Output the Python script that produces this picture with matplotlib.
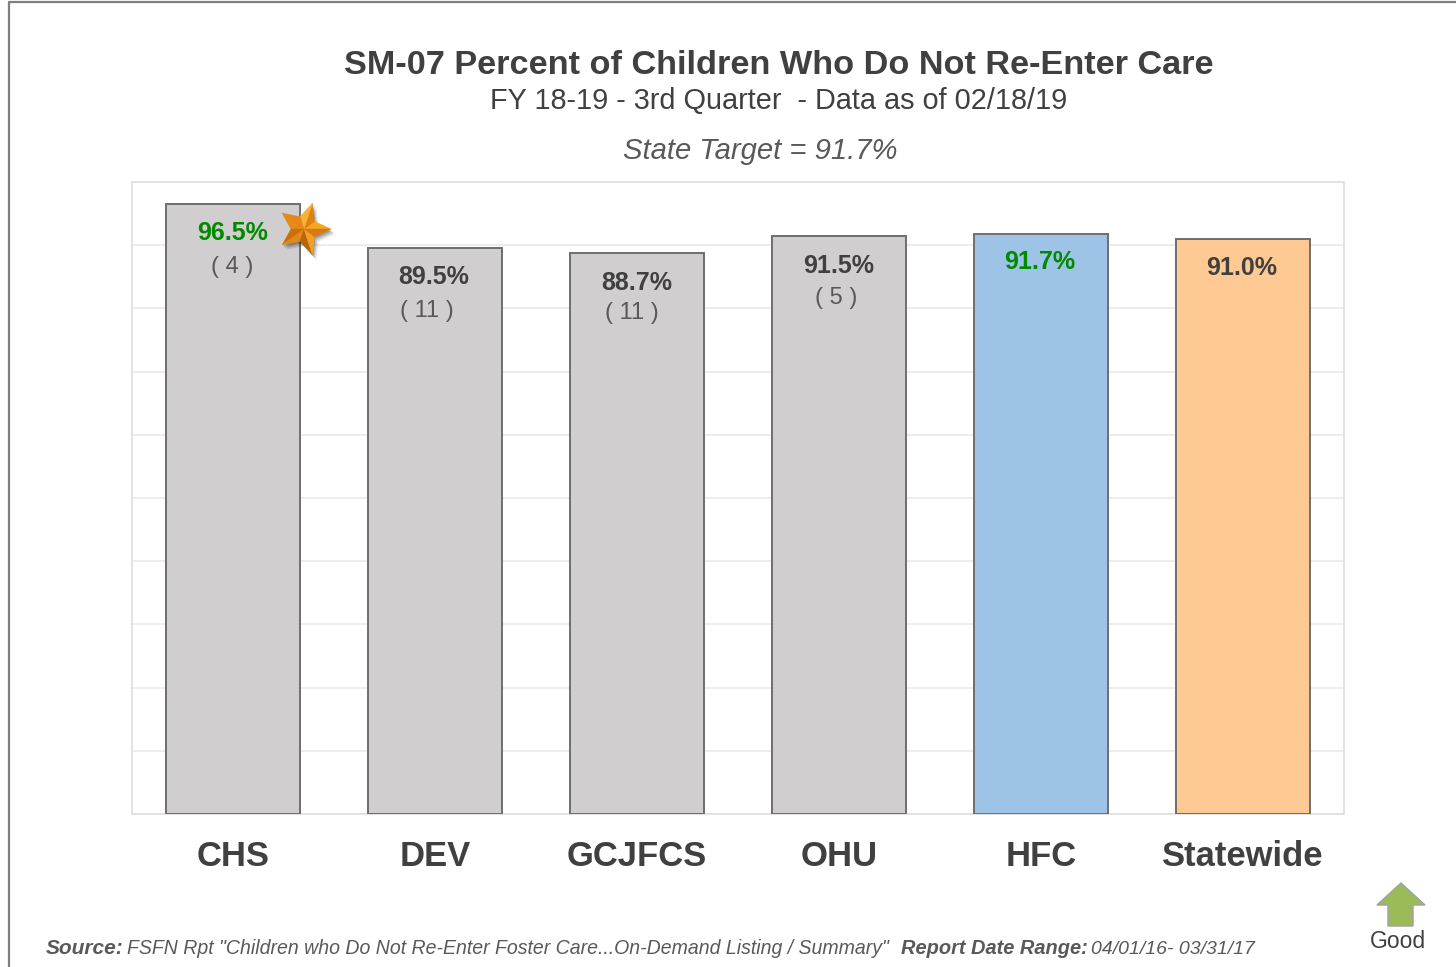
import numpy as np
import matplotlib
matplotlib.use('Agg')
import matplotlib.pyplot as plt
from matplotlib.patches import Polygon

plt.rcParams['font.family'] = ['Liberation Sans', 'DejaVu Sans']

categories = ['CHS', 'DEV', 'GCJFCS', 'OHU', 'HFC', 'Statewide']
percent_values = [96.5, 89.5, 88.7, 91.5, 91.7, 91.0]
counts = ['( 4 )', '( 11 )', '( 11 )', '( 5 )', '', '']
bar_colors = ['#d0cece', '#d0cece', '#d0cece', '#d0cece', '#9dc3e6', '#ffc993']
label_colors = ['#008a00', '#404040', '#404040', '#404040', '#008a00', '#404040']
y_ticks = [0, 10, 20, 30, 40, 50, 60, 70, 80, 90, 100]

W, H = 1456, 967
text_color = '#404040'
note_color = '#595959'

fig = plt.figure(figsize=(W / 100, H / 100), dpi=100, facecolor='white')

# plot area, in pixels of the reference
ax = fig.add_axes([132 / W, 1 - 814 / H, (1344 - 132) / W, (814 - 182) / H])
x = np.arange(len(categories))
bars = ax.bar(x, percent_values, width=0.665, color=bar_colors, edgecolor='#6e6e6e', linewidth=1.4, zorder=3)
ax.set_xlim(-0.5, len(categories) - 0.5)
ax.set_ylim(0, 100)
ax.set_yticks(y_ticks)
ax.set_yticklabels([])
ax.set_xticks(x)
ax.set_xticklabels(categories, fontsize=24.9, fontweight='bold', color=text_color)
ax.tick_params(axis='both', length=0)
ax.tick_params(axis='x', pad=19)
ax.grid(axis='y', color='#e8e8e8', linewidth=1.1, zorder=0)
ax.set_axisbelow(True)
for spine in ax.spines.values():
    spine.set_color('#e0e0e0')
    spine.set_linewidth(1.3)

# value labels hang from the bar tops
value_dx = [0, -1, 0, 0, -1, -1]
value_dy = [-29, -29, -30, -30, -28, -29]
count_dx = [-1, -8, -5, -3, 0, 0]
count_dy = [-63, -63, -60, -62, 0, 0]
for i, val in enumerate(percent_values):
    ax.annotate('%.1f%%' % val, (x[i], val), xytext=(value_dx[i], value_dy[i]), textcoords='offset pixels',
                ha='center', va='center', fontsize=18, fontweight='bold', color=label_colors[i], zorder=5)
    if counts[i]:
        ax.annotate(counts[i], (x[i], val), xytext=(count_dx[i], count_dy[i]), textcoords='offset pixels',
                    ha='center', va='center', fontsize=17, color='#595959', zorder=5)

# overlay in pixel coordinates for the page furniture
page = fig.add_axes([0, 0, 1, 1], zorder=10)
page.set_xlim(0, W)
page.set_ylim(H, 0)
page.axis('off')
page.patch.set_alpha(0)

page.plot([9, 9, W], [H, 2, 2], color='#7f7f7f', linewidth=1.6, solid_capstyle='butt')

page.text(779, 66, 'SM-07 Percent of Children Who Do Not Re-Enter Care', ha='center', va='center',
          fontsize=24.7, fontweight='bold', color=text_color)
page.text(779, 101, 'FY 18-19 - 3rd Quarter  - Data as of 02/18/19', ha='center', va='center',
          fontsize=20.8, color=text_color)
page.text(760, 151, 'State Target = 91.7%', ha='center', va='center',
          fontsize=21.1, fontstyle='italic', color=note_color)

# source line
page.text(46, 949, 'Source:', ha='left', va='center', fontsize=15, fontweight='bold', fontstyle='italic', color=note_color)
page.text(127, 949, 'FSFN Rpt "Children who Do Not Re-Enter Foster Care...On-Demand Listing / Summary"', ha='left', va='center',
          fontsize=14.05, fontstyle='italic', color=note_color)
page.text(901, 949, 'Report Date Range:', ha='left', va='center', fontsize=14.4, fontweight='bold', fontstyle='italic', color=note_color)
page.text(1091, 949, '04/01/16- 03/31/17', ha='left', va='center', fontsize=14, fontstyle='italic', color=note_color)

# good arrow
page.add_patch(Polygon([(1401, 883), (1425, 905), (1413, 905), (1413, 926), (1388, 926), (1388, 905), (1377, 905)],
                       closed=True, facecolor='#9bbb59', edgecolor='#a0a0a0', linewidth=1))
page.text(1398, 942, 'Good', ha='center', va='center', fontsize=16.5, color=text_color)

# star with shaded facets
cx, cy, outer, inner = 304, 229, 27, 13
angles = np.radians(np.arange(0, 360, 36))
radii = np.where(np.arange(10) % 2 == 0, outer, inner)
pts = np.column_stack([cx + radii * np.cos(angles), cy - radii * np.sin(angles)])
for off, alpha in [(5, 0.10), (3.5, 0.15), (2, 0.2)]:
    page.add_patch(Polygon(pts + [off - 1, off], closed=True, facecolor='black', edgecolor='none', alpha=alpha))
shades = ['#f7a51e', '#e0800f', '#f9b233', '#e8861a', '#e88a18', '#c9700c', '#e08a14', '#b8660a', '#f2a024', '#d67a12']
for i in range(10):
    tri = [(cx, cy), pts[i], pts[(i + 1) % 10]]
    page.add_patch(Polygon(tri, closed=True, facecolor=shades[i], edgecolor=shades[i], linewidth=0.3))

plt.savefig('out.png', dpi=100, facecolor='white')
